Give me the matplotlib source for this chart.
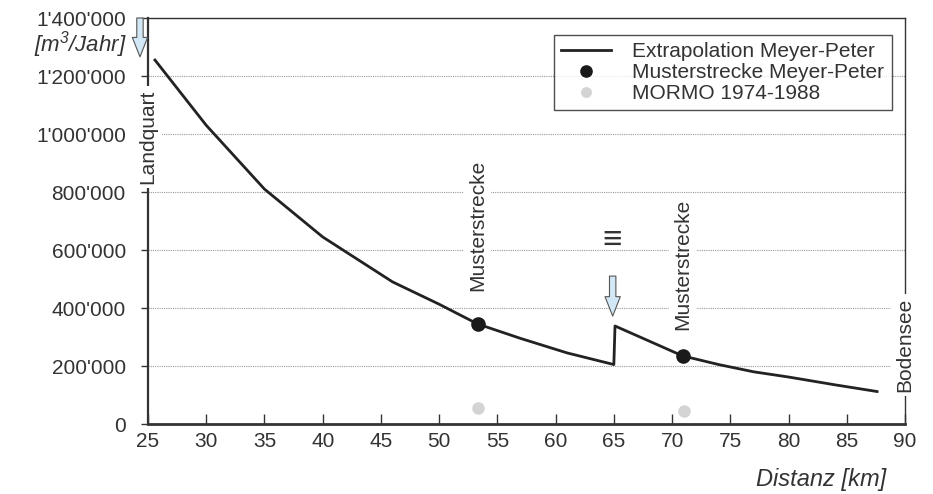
import matplotlib
matplotlib.use("Agg")
import matplotlib.pyplot as plt
from matplotlib.ticker import FixedLocator, FixedFormatter

plt.rcParams['font.family'] = ['Liberation Sans', 'DejaVu Sans']
plt.rcParams['mathtext.default'] = 'regular'

# data
dist_km = [25.6, 30, 35, 40, 46, 50, 53.3, 57, 61, 65, 65.1, 70.9, 74, 77, 80, 84, 87.6]
extrapolation = [1255000, 1030000, 810000, 645000, 490000, 413000, 345000, 295000,
                 245000, 205000, 338000, 235000, 205000, 180000, 162000, 135000, 112000]

muster_km = [53.3, 70.9]
muster_val = [345000, 235000]

mormo_km = [53.3, 71.0]
mormo_val = [55000, 45000]

x_ticks = [25, 30, 35, 40, 45, 50, 55, 60, 65, 70, 75, 80, 85, 90]
y_ticks = [0, 200000, 400000, 600000, 800000, 1000000, 1200000, 1400000]
y_tick_labels = ["0", "200'000", "400'000", "600'000", "800'000",
                 "1'000'000", "1'200'000", "1'400'000"]

txt = '#333333'
fs = 15
fig = plt.figure(figsize=(9.33, 4.94), dpi=100)
ax = fig.add_axes([148 / 933, 1 - 424 / 494, (905 - 148) / 933, (424 - 18) / 494])

ax.plot(dist_km, extrapolation, color='#222222', lw=2, label='Extrapolation Meyer-Peter', zorder=4)
ax.plot(muster_km, muster_val, 'o', color='#1a1a1a', ms=9.5, label='Musterstrecke Meyer-Peter', zorder=5)
ax.plot(mormo_km, mormo_val, 'o', color='#d4d4d4', ms=8, label='MORMO 1974-1988', zorder=5)

ax.set_xlim(25, 90)
ax.set_ylim(0, 1400000)
ax.xaxis.set_major_locator(FixedLocator(x_ticks))
ax.yaxis.set_major_locator(FixedLocator(y_ticks))
ax.yaxis.set_major_formatter(FixedFormatter(y_tick_labels))
ax.tick_params(axis='x', direction='in', length=7, width=1, pad=6, labelsize=fs, labelcolor=txt, color='#333')
ax.tick_params(axis='y', direction='out', length=5, width=1, pad=11, labelsize=fs, labelcolor=txt, color='#333')

ax.yaxis.grid(True, linestyle=(0, (1, 1)), color='#9a9a9a', lw=0.8, zorder=0)
ax.set_axisbelow(True)

ax.spines['left'].set_linewidth(1.6)
ax.spines['bottom'].set_linewidth(2)
ax.spines['top'].set_linewidth(1)
ax.spines['right'].set_linewidth(1)
for s in ax.spines.values():
    s.set_color('#333333')

# vertical location labels
box = dict(facecolor='white', edgecolor='none', pad=3)
ax.text(25, 990000, 'Landquart', rotation=90, ha='center', va='center', fontsize=fs,
        color=txt, bbox=box, clip_on=False, zorder=6)
ax.text(53.3, 685000, 'Musterstrecke', rotation=90, ha='center', va='center', fontsize=fs,
        color=txt, bbox=box, zorder=6)
ax.text(70.9, 550000, 'Musterstrecke', rotation=90, ha='center', va='center', fontsize=fs,
        color=txt, bbox=box, zorder=6)
ax.text(90, 272000, 'Bodensee', rotation=90, ha='center', va='center', fontsize=fs,
        color=txt, bbox=box, clip_on=False, zorder=6)
ax.text(64.85, 634000, '\u2261', ha='center', va='center', fontsize=24, color=txt)

# inflow arrows
arrow = dict(arrowstyle='simple,head_length=0.7,head_width=0.55,tail_width=0.23',
             fc='#d3e8f6', ec='#555555', lw=0.8, shrinkA=0, shrinkB=0, mutation_scale=20)
ax.annotate('', xy=(24.31, 1266000), xytext=(24.31, 1400000), arrowprops=arrow,
            annotation_clip=False)
ax.annotate('', xy=(64.9, 372000), xytext=(64.9, 510000), arrowprops=arrow)

leg = ax.legend(loc='upper right', bbox_to_anchor=(0.996, 0.985), fontsize=fs, frameon=True,
                fancybox=False, edgecolor='#222222', handlelength=2.4, handletextpad=1.0,
                labelspacing=0.1, borderpad=0.35, markerscale=0.85)
leg.get_frame().set_linewidth(1)
for t in leg.get_texts():
    t.set_color(txt)

fig.text(80 / 933, 1 - 45 / 494, '[m$^3$/Jahr]', ha='center', va='center', fontsize=16,
         style='italic', color=txt)
fig.text(886 / 933, 1 - 479 / 494, 'Distanz [km]', ha='right', va='center', fontsize=17,
         style='italic', color=txt)

fig.savefig('out.png', dpi=100)
